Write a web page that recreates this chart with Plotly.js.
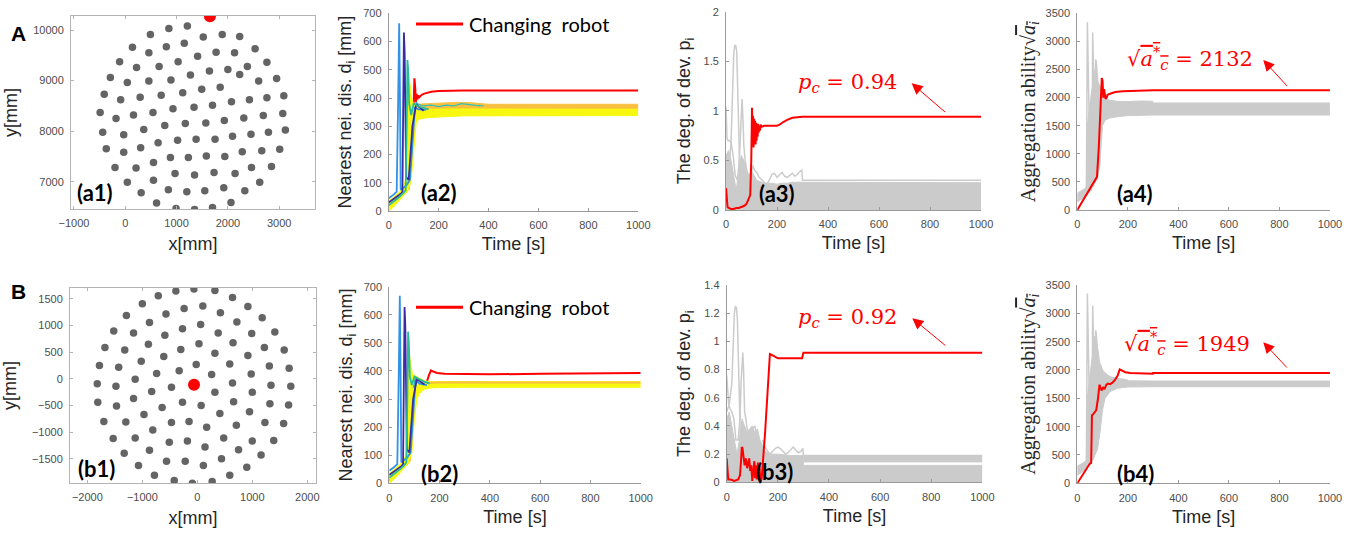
<!DOCTYPE html>
<html>
<head>
<meta charset="utf-8">
<script src="https://cdn.plot.ly/plotly-3.0.1.min.js"></script>
<style>
  html, body { margin: 0; padding: 0; background: #fff; }
  #fig { width: 1352px; height: 533px; }
</style>
</head>
<body>
<div id="fig"></div>
<script>
// ---------- (a1) robot positions, scenario A [mm] ----------
const a1X = [1210, 850, 490, 1890, 2230, 1520, 1150, 800, 140, 2530, 460, 1770, 2130, 1410, -110, 1030, 2760, 660, 220, 2380,
  1640, 2000, 1270, -290, 2230, 890, 460, 40, 2950, 2600, 1850, 1490, 1120, -410, 700, 290, -90, 3090, 2760, 2420,
  2070, 1700, 1340, 930, -490, 540, 160, -180, 3070, 2690, 2310, 1930, 1570, 1170, 770, 360, -440, -30, 3120, 2790,
  2450, 2090, 1750, 1380, 1020, 640, 300, -370, -30, 3010, 2660, 2280, 1940, 1580, 1230, 880, 550, -200, 210, 2850,
  2460, 2140, 1730, 1350, 970, 550, 40, 2620, 310, 2330, 1920, 1550, 1200, 840, 610, 990, 1350, 1700, 2060];
const a1Y = [10080, 10030, 9910, 9910, 9870, 9860, 9740, 9670, 9660, 9630, 9550, 9560, 9550, 9480, 9370, 9370, 9360, 9280, 9260, 9280,
  9190, 9220, 9110, 9060, 9120, 9010, 8990, 8960, 9040, 8990, 8870, 8830, 8760, 8730, 8710, 8670, 8620, 8700, 8660, 8620,
  8580, 8510, 8470, 8440, 8370, 8370, 8320, 8250, 8350, 8310, 8260, 8210, 8160, 8150, 8110, 8030, 7980, 7930, 8020, 7980,
  7940, 7900, 7840, 7840, 7820, 7770, 7670, 7650, 7580, 7640, 7610, 7590, 7500, 7510, 7480, 7480, 7380, 7280, 7270, 7300,
  7280, 7160, 7180, 7130, 7160, 7030, 6990, 6990, 6780, 6820, 6880, 6820, 6800, 6840, 6580, 6470, 6450, 6490, 6590];
const a1RedX = [1650];
const a1RedY = [10270];

// ---------- (b1) robot positions, scenario B [mm] ----------
const b1X = [-60, -390, 320, -710, 640, -1000, 100, -240, 920, -1290, -570, 420, 1180, -870, 60, 720, -1520, -270, -1160, 380,
  1410, 990, -590, -890, 30, 650, -1680, -1320, -300, 1220, 1580, -610, 320, 920, -1780, -1020, -20, 590, -1430, -330,
  1310, 1670, -740, 260, 980, -1820, -1480, -1130, -470, 640, 1340, 1700, -830, 320, 1000, -1810, -1470, -1160, -270, 70,
  660, 1320, 1660, -640, -970, 410, 950, -1700, -1300, -470, -150, 170, 710, 1230, 1570, -810, -1530, -1130, -510, -180,
  140, 480, 1000, 1390, -1330, -870, -560, -220, 110, 440, 750, 1160, -1070, -780, -420, -90, 270, 590, 900];
const b1Y = [1690, 1650, 1660, 1560, 1530, 1410, 1370, 1320, 1360, 1190, 1220, 1240, 1150, 1060, 1020, 1070, 900, 940, 860, 860,
  880, 850, 820, 650, 660, 680, 590, 540, 550, 590, 540, 420, 480, 440, 250, 330, 270, 280, 220, 150,
  240, 200, 100, 80, 90, -90, -140, -10, -160, -80, -120, -140, -240, -250, -250, -440, -510, -370, -440, -500,
  -430, -470, -490, -540, -670, -650, -620, -800, -810, -820, -800, -910, -870, -820, -840, -960, -1120, -1110, -1190, -1170,
  -1280, -1110, -1170, -1160, -1400, -1340, -1550, -1550, -1630, -1500, -1330, -1430, -1630, -1810, -1910, -1960, -1930, -1810, -1660];
const b1RedX = [-60];
const b1RedY = [-110];

// ---------- (a2) nearest-neighbour distance [mm] ----------
const a2RedT = [0, 20, 40, 60, 80, 95, 100, 103, 106, 109, 112, 115, 118, 121, 125, 130, 140, 150, 170, 200, 250, 300, 1000];
const a2RedY = [10, 25, 45, 60, 80, 250, 380, 470, 440, 385, 415, 395, 410, 400, 405, 410, 415, 418, 422, 425, 426, 427, 427];
const a2LowT = [0, 20, 40, 60, 80, 90, 100, 110, 120, 150, 200, 300, 1000];
const a2LowY = [0, 15, 35, 55, 75, 110, 220, 310, 325, 330, 333, 337, 338];
const a2HighT = [0, 20, 40, 60, 70, 78, 85, 92, 100, 110, 130, 200, 300, 1000];
const a2HighY = [35, 50, 65, 85, 120, 480, 450, 400, 378, 372, 368, 366, 366, 366];
const a2OrT = [110, 130, 180, 230, 280, 320, 360, 400, 1000];
const a2OrLowY = [362, 363, 364, 365, 365, 365, 364, 364, 364];
const a2OrHighY = [376, 379, 381, 384, 385, 384, 380, 378, 378];
const a2CyanT = [100, 110, 120, 140, 170, 200, 230, 260, 290, 320, 350, 380];
const a2CyanY = [330, 385, 378, 372, 375, 370, 375, 372, 380, 376, 374, 372];
const a2BlueT = [0, 10, 20, 28, 32, 38, 42, 45, 48, 55, 70, 85, 95, 105, 120, 150];
const a2BlueY = [45, 50, 58, 65, 68, 400, 665, 420, 75, 80, 90, 110, 250, 365, 360, 358];
const a2NavyT = [0, 20, 40, 50, 55, 58, 61, 64, 67, 70, 80, 95, 110, 140];
const a2NavyY = [30, 42, 55, 62, 68, 400, 632, 560, 300, 120, 110, 300, 378, 355];
const a2TealT = [0, 20, 40, 60, 68, 72, 75, 78, 82, 90, 100, 120, 160];
const a2TealY = [20, 33, 48, 65, 75, 300, 535, 500, 380, 340, 380, 370, 360];

// ---------- (b2) nearest-neighbour distance [mm] ----------
const b2RedT = [0, 20, 40, 60, 80, 95, 110, 130, 150, 158, 166, 175, 190, 220, 260, 300, 400, 600, 800, 1000];
const b2RedY = [10, 25, 45, 60, 80, 250, 345, 355, 362, 385, 402, 398, 393, 390, 389, 388, 388, 390, 392, 393];
const b2LowT = [0, 20, 40, 60, 80, 90, 100, 110, 120, 140, 170, 200, 300, 1000];
const b2LowY = [0, 15, 35, 55, 75, 110, 230, 300, 320, 335, 340, 341, 342, 342];
const b2HighT = [0, 20, 40, 60, 70, 78, 85, 92, 100, 110, 120, 140, 170, 200, 300, 1000];
const b2HighY = [35, 50, 65, 85, 120, 470, 430, 390, 385, 380, 372, 365, 362, 362, 362, 362];
const b2OrT = [150, 200, 300, 400, 1000];
const b2OrY = [357, 359, 360, 359, 359];
const b2CyanT = [95, 105, 115, 125, 140, 160];
const b2CyanY = [340, 378, 374, 368, 362, 358];
const b2BlueT = [0, 10, 20, 28, 32, 38, 42, 45, 48, 55, 70, 85, 95, 105, 120, 150];
const b2BlueY = [45, 50, 58, 65, 68, 400, 668, 420, 75, 80, 90, 110, 260, 370, 355, 350];
const b2NavyT = [0, 20, 40, 50, 55, 58, 61, 64, 67, 70, 80, 95, 110, 140];
const b2NavyY = [30, 42, 55, 62, 68, 400, 628, 560, 250, 120, 110, 300, 372, 352];
const b2TealT = [0, 20, 40, 60, 68, 72, 75, 78, 82, 90, 100, 110, 130, 160];
const b2TealY = [20, 33, 48, 65, 75, 300, 540, 500, 380, 350, 380, 375, 365, 355];

// ---------- (a3) degree of deviation ----------
const a3RedT = [0, 3, 6, 10, 20, 30, 40, 50, 60, 70, 80, 88, 95, 99, 102, 104, 106, 108, 110, 112, 114, 116, 118, 120, 122, 124,
  126, 128, 130, 133, 136, 140, 150, 170, 200, 210, 220, 240, 260, 280, 300, 1000];
const a3RedY = [0.22, 0.1, 0.03, 0.02, 0.01, 0.01, 0.02, 0.02, 0.03, 0.04, 0.06, 0.12, 0.15, 0.5, 1.03, 0.7, 0.95, 0.63, 0.92, 0.66,
  0.9, 0.66, 0.88, 0.7, 0.87, 0.74, 0.87, 0.78, 0.85, 0.8, 0.86, 0.84, 0.85, 0.85, 0.85, 0.86, 0.88, 0.91, 0.93, 0.935, 0.94, 0.94];
const a3BaseT = [0, 1000];
const a3BaseY = [0, 0];
const a3BandT = [0, 10, 20, 30, 40, 50, 60, 70, 80, 90, 100, 110, 120, 140, 160, 180, 200, 220, 240, 260, 280, 299, 300, 1000];
const a3BandY = [0.55, 0.6, 0.5, 0.35, 0.2, 0.4, 0.55, 0.5, 0.4, 0.35, 0.4, 0.35, 0.3, 0.28, 0.27, 0.27, 0.26, 0.27, 0.27, 0.28, 0.28, 0.28, 0.275, 0.275];
const a3G1T = [0, 10, 20, 25, 30, 34, 38, 42, 46, 50, 55, 60, 70, 80, 90, 100];
const a3G1Y = [0.3, 0.35, 0.7, 1.2, 1.55, 1.66, 1.66, 1.6, 1.2, 0.7, 0.3, 0.15, 0.1, 0.06, 0.04, 0.03];
const a3G2T = [0, 4, 8, 14, 20, 28, 36, 45, 52, 56, 60, 63, 66, 70, 75, 80, 90, 100, 110];
const a3G2Y = [1.04, 0.72, 0.7, 0.7, 0.68, 0.55, 0.35, 0.3, 0.5, 0.8, 1.05, 1.12, 0.95, 0.65, 0.5, 0.42, 0.32, 0.25, 0.15];
const a3G3T = [95, 105, 112, 120, 130, 140, 150, 160, 170, 180, 190, 200, 210, 220, 230, 240, 250, 260, 270, 280, 290, 297, 300, 1000];
const a3G3Y = [0.3, 0.45, 0.4, 0.38, 0.33, 0.3, 0.28, 0.26, 0.3, 0.36, 0.37, 0.33, 0.36, 0.38, 0.34, 0.33, 0.35, 0.37, 0.34, 0.36, 0.39, 0.4, 0.3, 0.3];

// ---------- (b3) degree of deviation ----------
const b3RedT = [0, 3, 6, 15, 30, 45, 52, 56, 59, 62, 66, 70, 75, 80, 85, 88, 92, 96, 100, 104, 108, 111, 114, 118, 122, 125, 128,
  132, 137, 150, 160, 169, 180, 200, 220, 250, 280, 295, 300, 1000];
const b3RedY = [0.17, 0.08, 0.02, 0.02, 0.01, 0.02, 0.05, 0.15, 0.25, 0.24, 0.15, 0.12, 0.17, 0.1, 0.14, 0.17, 0.08, 0.12, 0.01, 0.08,
  0.15, 0.03, 0.12, 0.02, 0.14, 0.03, 0.12, 0.0, 0.03, 0.35, 0.65, 0.91, 0.9, 0.88, 0.88, 0.88, 0.875, 0.88, 0.92, 0.92];
const b3BaseT = [0, 1000];
const b3BaseY = [0, 0];
const b3BandT = [0, 10, 20, 30, 40, 50, 60, 70, 80, 90, 100, 110, 120, 130, 140, 150, 170, 200, 250, 299, 300, 1000];
const b3BandY = [0.45, 0.5, 0.4, 0.3, 0.2, 0.3, 0.45, 0.4, 0.35, 0.38, 0.4, 0.35, 0.38, 0.3, 0.26, 0.22, 0.2, 0.2, 0.19, 0.19, 0.12, 0.12];
const b3Band2T = [300, 1000];
const b3Band2LowY = [0.145, 0.145];
const b3Band2HighY = [0.19, 0.19];
const b3G1T = [0, 10, 20, 25, 30, 34, 38, 42, 46, 50, 55, 60, 70, 80, 100];
const b3G1Y = [0.5, 0.55, 0.7, 1.0, 1.2, 1.25, 1.24, 1.15, 0.85, 0.5, 0.2, 0.12, 0.08, 0.05, 0.03];
const b3G2T = [0, 4, 8, 14, 20, 28, 36, 45, 52, 56, 60, 63, 66, 70, 75, 80, 90, 100, 110, 120, 130];
const b3G2Y = [0.76, 0.6, 0.55, 0.52, 0.5, 0.45, 0.3, 0.3, 0.45, 0.7, 0.88, 0.92, 0.8, 0.5, 0.45, 0.38, 0.32, 0.38, 0.4, 0.3, 0.25];
const b3G3T = [140, 150, 160, 170, 180, 190, 200, 210, 220, 230, 240, 250, 260, 270, 280, 290, 298, 300, 1000];
const b3G3Y = [0.3, 0.25, 0.22, 0.2, 0.22, 0.24, 0.25, 0.24, 0.22, 0.2, 0.21, 0.23, 0.25, 0.23, 0.21, 0.22, 0.24, 0.19, 0.19];

// ---------- (a4) aggregation ability ----------
const a4RedT = [0, 20, 40, 60, 78, 85, 92, 97, 100, 103, 106, 109, 112, 116, 120, 130, 150, 180, 200, 250, 300, 1000];
const a4RedY = [0, 150, 300, 430, 590, 1100, 1800, 2350, 2300, 2000, 2150, 2050, 1980, 2000, 2050, 2070, 2100, 2115, 2120, 2125, 2132, 2132];
const a4LowT = [0, 20, 40, 60, 80, 90, 95, 100, 110, 130, 160, 200, 300, 1000];
const a4LowY = [150, 200, 280, 400, 560, 800, 1200, 1500, 1600, 1640, 1660, 1680, 1690, 1690];
const a4HighT = [0, 20, 30, 36, 40, 50, 60, 70, 80, 90, 100, 110, 130, 160, 200, 250, 299, 300, 1000];
const a4HighY = [300, 350, 380, 420, 1500, 1900, 2200, 2500, 2300, 2200, 2050, 1980, 1950, 1930, 1930, 1940, 1935, 1905, 1905];
const a4G1T = [0, 10, 20, 30, 36, 40, 43, 46, 50, 60, 80, 100, 120, 200];
const a4G1Y = [250, 270, 300, 330, 350, 3340, 2600, 1200, 900, 950, 1300, 1750, 1800, 1850];
const a4G2T = [0, 20, 40, 55, 58, 61, 64, 68, 72, 80, 90, 100, 120, 200];
const a4G2Y = [200, 240, 300, 360, 500, 3160, 2600, 1800, 1400, 1400, 1700, 1900, 1850, 1800];
const a4G3T = [0, 30, 50, 65, 70, 73, 76, 80, 85, 92, 100, 120, 200];
const a4G3Y = [150, 260, 360, 460, 700, 2680, 2600, 2200, 2000, 2150, 2000, 1950, 1900];

// ---------- (b4) aggregation ability ----------
const b4RedT = [0, 25, 50, 55, 58, 65, 75, 82, 88, 92, 97, 102, 108, 115, 122, 130, 140, 150, 160, 168, 175, 190, 210, 250, 290, 299, 300, 1000];
const b4RedY = [0, 180, 350, 360, 1200, 1230, 1290, 1500, 1740, 1680, 1640, 1700, 1660, 1740, 1760, 1750, 1780, 1830, 1900, 2010,
  1990, 1960, 1945, 1935, 1930, 1932, 1949, 1949];
const b4LowT = [0, 20, 40, 60, 80, 90, 100, 110, 130, 160, 200, 300, 1000];
const b4LowY = [150, 200, 280, 400, 600, 900, 1300, 1500, 1620, 1680, 1700, 1705, 1705];
const b4HighT = [0, 20, 30, 36, 40, 50, 60, 70, 80, 90, 100, 110, 130, 160, 200, 300, 1000];
const b4HighY = [300, 350, 380, 420, 1500, 1900, 2300, 2600, 2400, 2100, 2000, 1950, 1880, 1830, 1810, 1805, 1805];
const b4G1T = [0, 10, 20, 30, 36, 40, 43, 46, 50, 60, 80, 100, 120, 200];
const b4G1Y = [250, 270, 300, 330, 350, 3350, 2600, 1200, 900, 950, 1300, 1750, 1800, 1800];
const b4G2T = [0, 20, 40, 55, 58, 61, 64, 68, 72, 80, 90, 100, 120, 200];
const b4G2Y = [200, 240, 300, 360, 500, 3140, 2600, 1800, 1400, 1400, 1700, 1900, 1850, 1790];
const b4G3T = [0, 30, 50, 65, 70, 73, 76, 80, 85, 92, 100, 120, 200];
const b4G3Y = [150, 260, 360, 460, 700, 2700, 2600, 2200, 2000, 2100, 1950, 1880, 1820];

// ---------- annotation values ----------
const pcA = 0.94, pcB = 0.92;
const acA = 2132, acB = 1949;

// ---------- colours ----------
const RED = '#ff0000';
const GREY_DOT = '#646464';
const LIGHT_GREY = '#cbcbcb';
const YELLOW = '#f7f70f';
const ORANGE = '#f9c040';
const CYAN = '#2fc1b9';
const TEAL = '#2bbd9a';
const BLUE = '#2f93e6';
const NAVY = '#3b2aa6';

// ---------- trace helpers ----------
function line(xa, ya, t, y, color, width, extra) {
  return Object.assign({
    type: 'scatter', mode: 'lines', xaxis: xa, yaxis: ya, x: t, y: y,
    line: { color: color, width: width || 1.5 }, hoverinfo: 'skip', showlegend: false
  }, extra || {});
}
function band(xa, ya, tLo, yLo, tHi, yHi, color) {
  return [
    line(xa, ya, tLo, yLo, color, 1),
    line(xa, ya, tHi, yHi, color, 1, { fill: 'tonexty', fillcolor: color })
  ];
}
function dots(xa, ya, x, y, color, size) {
  return {
    type: 'scatter', mode: 'markers', xaxis: xa, yaxis: ya, x: x, y: y,
    marker: { color: color, size: size, line: { width: 0 } }, hoverinfo: 'skip', showlegend: false
  };
}

const traces = [
  // (a1)
  dots('x', 'y', a1X, a1Y, GREY_DOT, 7.5),
  dots('x', 'y', a1RedX, a1RedY, RED, 12),
  // (a2)
  line('x2', 'y2', a2RedT, a2RedY, RED, 2),
  ...band('x2', 'y2', a2LowT, a2LowY, a2HighT, a2HighY, YELLOW),
  ...band('x2', 'y2', a2OrT, a2OrLowY, a2OrT, a2OrHighY, ORANGE),
  line('x2', 'y2', a2CyanT, a2CyanY, CYAN, 1.2),
  line('x2', 'y2', a2BlueT, a2BlueY, BLUE, 1.8),
  line('x2', 'y2', a2NavyT, a2NavyY, NAVY, 1.8),
  line('x2', 'y2', a2TealT, a2TealY, TEAL, 1.8),
  // (a3)
  ...band('x3', 'y3', a3BaseT, a3BaseY, a3BandT, a3BandY, LIGHT_GREY),
  line('x3', 'y3', a3G1T, a3G1Y, LIGHT_GREY, 1.5),
  line('x3', 'y3', a3G2T, a3G2Y, LIGHT_GREY, 1.5),
  line('x3', 'y3', a3G3T, a3G3Y, LIGHT_GREY, 1.5),
  line('x3', 'y3', a3RedT, a3RedY, RED, 2),
  // (a4)
  ...band('x4', 'y4', a4LowT, a4LowY, a4HighT, a4HighY, LIGHT_GREY),
  line('x4', 'y4', a4G1T, a4G1Y, LIGHT_GREY, 1.5),
  line('x4', 'y4', a4G2T, a4G2Y, LIGHT_GREY, 1.5),
  line('x4', 'y4', a4G3T, a4G3Y, LIGHT_GREY, 1.5),
  line('x4', 'y4', a4RedT, a4RedY, RED, 2),
  // (b1)
  dots('x5', 'y5', b1X, b1Y, GREY_DOT, 7.5),
  dots('x5', 'y5', b1RedX, b1RedY, RED, 12),
  // (b2)
  line('x6', 'y6', b2RedT, b2RedY, RED, 2),
  ...band('x6', 'y6', b2LowT, b2LowY, b2HighT, b2HighY, YELLOW),
  line('x6', 'y6', b2OrT, b2OrY, ORANGE, 2),
  line('x6', 'y6', b2CyanT, b2CyanY, CYAN, 1.2),
  line('x6', 'y6', b2BlueT, b2BlueY, BLUE, 1.8),
  line('x6', 'y6', b2NavyT, b2NavyY, NAVY, 1.8),
  line('x6', 'y6', b2TealT, b2TealY, TEAL, 1.8),
  // (b3)
  ...band('x7', 'y7', b3BaseT, b3BaseY, b3BandT, b3BandY, LIGHT_GREY),
  ...band('x7', 'y7', b3Band2T, b3Band2LowY, b3Band2T, b3Band2HighY, LIGHT_GREY),
  line('x7', 'y7', b3G1T, b3G1Y, LIGHT_GREY, 1.5),
  line('x7', 'y7', b3G2T, b3G2Y, LIGHT_GREY, 1.5),
  line('x7', 'y7', b3G3T, b3G3Y, LIGHT_GREY, 1.5),
  line('x7', 'y7', b3RedT, b3RedY, RED, 2),
  // (b4)
  ...band('x8', 'y8', b4LowT, b4LowY, b4HighT, b4HighY, LIGHT_GREY),
  line('x8', 'y8', b4G1T, b4G1Y, LIGHT_GREY, 1.5),
  line('x8', 'y8', b4G2T, b4G2Y, LIGHT_GREY, 1.5),
  line('x8', 'y8', b4G3T, b4G3Y, LIGHT_GREY, 1.5),
  line('x8', 'y8', b4RedT, b4RedY, RED, 2)
];

// ---------- axes ----------
const SANS = 'Liberation Sans, Arial, sans-serif';
const SERIF = 'Liberation Serif, Times New Roman, serif';
const MATH = 'DejaVu Serif, serif';
const tickFont = { family: SANS, size: 11, color: '#4d4d4d' };
const titleFont = { family: SANS, size: 18, color: '#262626' };

function axis(domain, anchor, range, dtick, title, standoff, extra) {
  return Object.assign({
    domain: domain, anchor: anchor, range: range, autorange: false,
    tick0: 0, dtick: dtick, tickformat: dtick < 1 ? '' : 'd',
    showline: true, linecolor: '#9a9a9a', linewidth: 1, mirror: false,
    ticks: 'inside', ticklen: 3, tickcolor: '#9a9a9a', tickwidth: 1,
    showgrid: false, zeroline: false, tickfont: tickFont, ticklabelstandoff: 4,
    title: { text: title, font: titleFont, standoff: standoff },
    fixedrange: true
  }, extra || {});
}
const boxed = { mirror: 'ticks', linecolor: '#b4b4b4', tickcolor: '#b4b4b4' };

const TIME = 'Time [s]';
const DIST = 'Nearest nei. dis. d<sub>i</sub> [mm]';
const DEV = 'The deg. of dev. p<sub>i</sub>';
const AGG = 'Aggregation ability\u221A<span style="text-decoration:overline"><i>a<sub>i</sub></i></span>';
const aggTitle = { title: { text: AGG, font: { family: SERIF, size: 20, color: '#262626' }, standoff: 4 } };

const layout = {
  width: 1352, height: 533,
  margin: { l: 0, r: 0, t: 0, b: 0 },
  paper_bgcolor: '#ffffff', plot_bgcolor: '#ffffff',
  showlegend: false,
  font: { family: SANS },
  // top row
  xaxis: axis([0.0525, 0.2330], 'y', [-1058, 3698], 1000, 'x[mm]', 9, boxed),
  yaxis: axis([0.6079, 0.9700], 'x', [6460, 10277], 1000, 'y[mm]', 10, boxed),
  xaxis2: axis([0.2875, 0.4721], 'y2', [0, 1000], 200, TIME, 7),
  yaxis2: axis([0.6041, 0.9750], 'x2', [0, 700], 100, DIST, 6),
  xaxis3: axis([0.5370, 0.7256], 'y3', [0, 1000], 200, TIME, 7),
  yaxis3: axis([0.6060, 0.9780], 'x3', [0, 2], 0.5, DEV, 8),
  xaxis4: axis([0.7968, 0.9837], 'y4', [0, 1000], 200, TIME, 7),
  yaxis4: axis([0.6060, 0.9750], 'x4', [0, 3500], 500, AGG, 4, aggTitle),
  // bottom row
  xaxis5: axis([0.0518, 0.2337], 'y5', [-2315, 2158], 1000, 'x[mm]', 9, boxed),
  yaxis5: axis([0.0938, 0.4597], 'x5', [-1957, 1707], 500, 'y[mm]', 10, boxed),
  xaxis6: axis([0.2879, 0.4739], 'y6', [0, 1000], 200, TIME, 7),
  yaxis6: axis([0.0932, 0.4621], 'x6', [0, 700], 100, DIST, 6),
  xaxis7: axis([0.5375, 0.7266], 'y7', [0, 1000], 200, TIME, 7),
  yaxis7: axis([0.0951, 0.4653], 'x7', [0, 1.4], 0.2, DEV, 8),
  xaxis8: axis([0.7968, 0.9837], 'y8', [0, 1000], 200, TIME, 7),
  yaxis8: axis([0.0932, 0.4653], 'x8', [0, 3500], 500, AGG, 4, aggTitle),
  shapes: [
    // legend swatches for the changing robot
    { type: 'line', xref: 'paper', yref: 'paper', x0: 0.3077, x1: 0.3425, y0: 0.9550, y1: 0.9550, line: { color: RED, width: 3 } },
    { type: 'line', xref: 'paper', yref: 'paper', x0: 0.3077, x1: 0.3425, y0: 0.4235, y1: 0.4235, line: { color: RED, width: 3 } }
  ],
  annotations: []
};

const ann = layout.annotations;
function paperText(x, y, text, font, xanchor) {
  ann.push({ xref: 'paper', yref: 'paper', x: x, y: y, text: text, showarrow: false,
    xanchor: xanchor || 'center', yanchor: 'middle', font: font });
}
const panelFont = { family: 'Lato, Open Sans, sans-serif', size: 22, color: '#000', weight: 'bold' };
const bigFont = { family: SANS, size: 21, color: '#000', weight: 'bold' };
paperText(0.0136, 0.9375, '<b>A</b>', bigFont);
paperText(0.0136, 0.4527, '<b>B</b>', bigFont);
paperText(0.0703, 0.6379, '<b>(a1)</b>', panelFont);
paperText(0.0715, 0.1201, '<b>(b1)</b>', panelFont);
paperText(0.3249, 0.6385, '<b>(a2)</b>', panelFont);
paperText(0.3254, 0.1120, '<b>(b2)</b>', panelFont);
paperText(0.5745, 0.6373, '<b>(a3)</b>', panelFont);
paperText(0.5732, 0.1163, '<b>(b3)</b>', panelFont);
paperText(0.8395, 0.6373, '<b>(a4)</b>', panelFont);
paperText(0.8395, 0.1120, '<b>(b4)</b>', panelFont);

const legendFont = { family: 'Lato, Open Sans, sans-serif', size: 20, color: '#000' };
paperText(0.3454, 0.9550, 'Changing&nbsp;&nbsp;robot', legendFont, 'left');
paperText(0.3454, 0.4235, 'Changing&nbsp;&nbsp;robot', legendFont, 'left');

// value call-outs: a red label plus an arrow running from the curve up to it
const mathFont = { family: MATH, size: 21, color: RED };
function callout(xa, ya, tx, ty, text, hx, hy, sx, sy) {
  ann.push({ xref: xa, yref: ya, x: tx, y: ty, text: text, showarrow: false,
    xanchor: 'center', yanchor: 'middle', font: mathFont });
  ann.push({ xref: xa, yref: ya, x: hx, y: hy, ax: sx, ay: sy, axref: xa, ayref: ya,
    text: '', showarrow: true, arrowhead: 2, arrowsize: 2.2, arrowwidth: 1, arrowcolor: RED });
}
const pcText = v => '<i>p<sub>c</sub></i> = ' + v.toFixed(2);
const acText = v => '\u221A<span style="text-decoration:overline"><i>a<sup>*</sup><sub>c</sub></i></span> = ' + v;
callout('x3', 'y3', 476, 1.278, pcText(pcA), 728, 1.278, 865, 0.975);
callout('x7', 'y7', 472, 1.164, pcText(pcB), 726, 1.164, 861, 0.962);
callout('x4', 'y4', 446, 2699, acText(acA), 736, 2669, 835, 2183);
callout('x8', 'y8', 433, 2471, acText(acB), 736, 2489, 835, 2017);

Plotly.newPlot('fig', traces, layout, { staticPlot: true, displayModeBar: false });
</script>
</body>
</html>
